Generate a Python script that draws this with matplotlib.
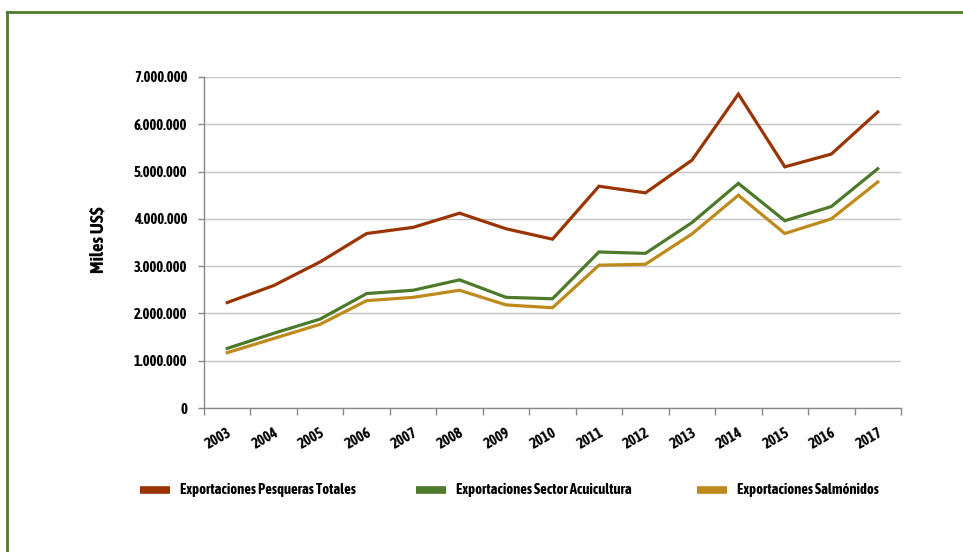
import matplotlib
matplotlib.use("Agg")
import matplotlib.pyplot as plt
from matplotlib.lines import Line2D
from matplotlib.ticker import FuncFormatter

years = ["2003", "2004", "2005", "2006", "2007", "2008", "2009", "2010",
         "2011", "2012", "2013", "2014", "2015", "2016", "2017"]
pesqueras_totales = [2.23, 2.59, 3.09, 3.69, 3.82, 4.12, 3.79, 3.57,
                     4.69, 4.55, 5.24, 6.64, 5.10, 5.37, 6.26]
sector_acuicultura = [1.26, 1.58, 1.88, 2.42, 2.49, 2.71, 2.34, 2.31,
                      3.30, 3.27, 3.92, 4.75, 3.96, 4.26, 5.06]
salmonidos = [1.17, 1.47, 1.77, 2.27, 2.34, 2.49, 2.18, 2.12,
              3.02, 3.04, 3.68, 4.50, 3.69, 4.00, 4.78]
series_names = ["Exportaciones Pesqueras Totales",
                "Exportaciones Sector Acuicultura",
                "Exportaciones Salmónidos"]
y_ticks = [0, 1, 2, 3, 4, 5, 6, 7]

colors = ["#9B3403", "#4C7A2A", "#BF8A1C"]
border_color = "#4F7A2C"

plt.rcParams["font.family"] = ["Asap Condensed", "Liberation Sans", "DejaVu Sans"]
FW = "bold"

fig = plt.figure(figsize=(9.63, 5.52), dpi=100)
ax = fig.add_axes([204/963, 1-408/552, (901-204)/963, (408-77)/552])

x = list(range(len(years)))
for vals, c in zip([pesqueras_totales, sector_acuicultura, salmonidos], colors):
    ax.plot(x, [v * 1e6 for v in vals], color=c, lw=2.3, solid_joinstyle="miter")

ax.set_xlim(-0.5, len(years) - 0.5)
ax.set_ylim(0, 7e6)
ax.set_yticks([t * 1e6 for t in y_ticks])
ax.yaxis.set_major_formatter(FuncFormatter(lambda v, p: "0" if v == 0 else f"{int(v):,}".replace(",", ".")))
ax.set_xticks([i - 0.5 for i in range(len(years) + 1)], minor=False)
ax.set_xticklabels([""] * (len(years) + 1))
ax.set_xticks(x, minor=True)
ax.set_xticklabels(years, minor=True, rotation=30, ha="right", rotation_mode="anchor",
                   fontsize=10.5, fontweight=FW)
ax.tick_params(axis="x", which="minor", length=0, pad=13)
ax.tick_params(axis="x", which="major", length=5, color="#888888", width=1)
ax.tick_params(axis="y", length=4, color="#888888", width=1, labelsize=10.5, pad=8)
for lab in ax.get_yticklabels():
    lab.set_fontweight(FW)

ax.grid(axis="y", color="#c4c4c4", lw=1)
ax.set_axisbelow(True)
for s in ["top", "right"]:
    ax.spines[s].set_visible(False)
for s in ["left", "bottom"]:
    ax.spines[s].set_color("#888888")
    ax.spines[s].set_linewidth(1)

fig.text(98/963, 1-240/552, "Miles US$", rotation=90, ha="center", va="center",
         fontsize=13.5, fontweight=FW)

# legend
patch_x = [140, 416, 697]
for px, name, c in zip(patch_x, series_names, colors):
    ly = 1 - 490/552
    fig.add_artist(Line2D([px/963, (px+30)/963], [ly, ly], color=c, lw=5.5,
                          solid_capstyle="butt", transform=fig.transFigure))
    fig.text((px+40)/963, ly, name, ha="left", va="center", fontsize=10.5, fontweight=FW)

# green frame
fig.add_artist(Line2D([7/963, 1.0], [1-12/552, 1-12/552], color=border_color, lw=2,
                      transform=fig.transFigure))
fig.add_artist(Line2D([7/963, 7/963], [0, 1-12/552], color=border_color, lw=2,
                      transform=fig.transFigure))

fig.savefig("out.png", dpi=100)
